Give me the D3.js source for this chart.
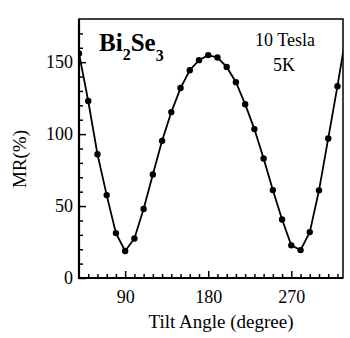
<!DOCTYPE html>
<html>
<head>
<meta charset="utf-8">
<script src="https://cdnjs.cloudflare.com/ajax/libs/d3/7.8.5/d3.min.js"></script>
<style>
  body { margin: 0; background: #fff; }
  text { font-family: "Liberation Serif", "DejaVu Serif", serif; fill: #000; }
</style>
</head>
<body>
<svg id="chart" width="350" height="338"></svg>
<script>
/*
******************************** DATA ********************************
*/
// tilt angle (degree) and magnetoresistance MR(%)
var angles = [40, 50, 60, 70, 80, 90, 100, 110, 120, 130, 140, 150, 160, 170, 180,
              190, 200, 210, 220, 230, 240, 250, 260, 270, 280, 290, 300, 310, 320, 330];
var mrValues = [156, 123, 86, 57.6, 31.2, 18.8, 27.5, 48, 72, 95.3, 115.3, 132, 144.4, 151.4, 154.9,
                153.2, 146.7, 136.1, 120.8, 103.5, 83.1, 61.1, 40.7, 22.7, 19.4, 31.9, 60.9, 97, 133.3, 172];
var xTicks = [90, 180, 270];
var yTicks = [0, 50, 100, 150];

/*
******************************** SETUP ********************************
*/
// note: "top" is a reserved window property, so use plot* names
var svg = d3.select("#chart"),
    plotL = 79, plotR = 343, plotT = 19, plotB = 278;

var x = d3.scaleLinear().domain([40, 326]).range([plotL, plotR]);
var y = d3.scaleLinear().domain([0, 180]).range([plotB, plotT]);

svg.append("clipPath").attr("id", "plotclip")
  .append("rect")
  .attr("x", plotL).attr("y", plotT)
  .attr("width", plotR - plotL).attr("height", plotB - plotT);

/*
******************************** AXES ********************************
*/
// minor ticks first, majors drawn on top
var xMinor = d3.range(50, 326, 10).filter(function (d) { return xTicks.indexOf(d) < 0; });
var yMinor = d3.range(10, 180, 10).filter(function (d) { return yTicks.indexOf(d) < 0; });

svg.append("g")
  .attr("transform", "translate(0," + plotB + ")")
  .call(d3.axisBottom(x).tickValues(xMinor).tickSize(-4).tickFormat(""))
  .call(function (g) { g.select(".domain").remove(); });

svg.append("g")
  .attr("transform", "translate(" + plotL + ",0)")
  .call(d3.axisLeft(y).tickValues(yMinor).tickSize(-4).tickFormat(""))
  .call(function (g) { g.select(".domain").remove(); });

var xAxis = svg.append("g")
  .attr("transform", "translate(0," + plotB + ")")
  .call(d3.axisBottom(x).tickValues(xTicks).tickSize(-7).tickPadding(12));
xAxis.select(".domain").remove();
xAxis.selectAll("text").attr("font-size", 18).attr("dy", "0.71em");

var yAxis = svg.append("g")
  .attr("transform", "translate(" + plotL + ",0)")
  .call(d3.axisLeft(y).tickValues(yTicks).tickSize(-7).tickPadding(6));
yAxis.select(".domain").remove();
yAxis.selectAll("text").attr("font-size", 18);

svg.selectAll(".tick line").attr("stroke", "#000").attr("stroke-width", 1.5);
svg.selectAll(".tick text").style("font-family", "'Liberation Serif', serif").attr("fill", "#000");

// frame box
svg.append("rect")
  .attr("x", plotL).attr("y", plotT)
  .attr("width", plotR - plotL).attr("height", plotB - plotT)
  .attr("fill", "none").attr("stroke", "#000").attr("stroke-width", 1.5);
// heavier left & bottom axis lines
svg.append("path")
  .attr("d", "M" + plotL + "," + plotT + "V" + plotB + "H" + plotR)
  .attr("fill", "none").attr("stroke", "#000").attr("stroke-width", 2.2);

/*
******************************** DATA MARKS ********************************
*/
var pts = angles.map(function (a, i) { return [a, mrValues[i]]; });

var plot = svg.append("g").attr("clip-path", "url(#plotclip)");

plot.append("path")
  .datum(pts)
  .attr("fill", "none")
  .attr("stroke", "#000")
  .attr("stroke-width", 1.8)
  .attr("d", d3.line().x(function (d) { return x(d[0]); }).y(function (d) { return y(d[1]); }));

plot.selectAll("circle")
  .data(pts)
  .enter().append("circle")
  .attr("cx", function (d) { return x(d[0]); })
  .attr("cy", function (d) { return y(d[1]); })
  .attr("r", 3.2)
  .attr("fill", "#000");

/*
******************************** LABELS ********************************
*/
svg.append("text")
  .attr("x", 221).attr("y", 328)
  .attr("text-anchor", "middle")
  .attr("font-size", 19)
  .text("Tilt Angle (degree)");

svg.append("text")
  .attr("transform", "translate(26,159) rotate(-90)")
  .attr("text-anchor", "middle")
  .attr("font-size", 19)
  .text("MR(%)");

var title = svg.append("text")
  .attr("x", 99).attr("y", 51)
  .attr("font-size", 25)
  .attr("font-weight", "bold");
title.append("tspan").text("Bi");
title.append("tspan").attr("font-size", 16).attr("dy", 9).text("2");
title.append("tspan").attr("dy", -9).text("Se");
title.append("tspan").attr("font-size", 16).attr("dy", 10).text("3");

svg.append("text")
  .attr("x", 285).attr("y", 46)
  .attr("text-anchor", "middle")
  .attr("font-size", 18)
  .text("10 Tesla");
svg.append("text")
  .attr("x", 284).attr("y", 71)
  .attr("text-anchor", "middle")
  .attr("font-size", 18)
  .text("5K");
</script>
</body>
</html>
